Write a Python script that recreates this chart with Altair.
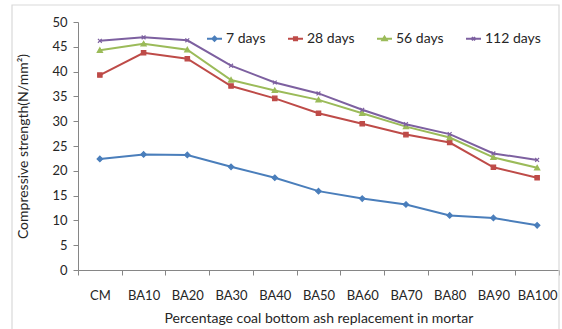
import altair as alt
import pandas as pd

categories = ["CM", "BA10", "BA20", "BA30", "BA40", "BA50", "BA60", "BA70", "BA80", "BA90", "BA100"]
series_names = ["7 days", "28 days", "56 days", "112 days"]
days7 = [22.4, 23.3, 23.2, 20.8, 18.6, 15.9, 14.4, 13.2, 11.0, 10.5, 9.0]
days28 = [39.3, 43.8, 42.6, 37.1, 34.6, 31.6, 29.5, 27.3, 25.7, 20.7, 18.6]
days56 = [44.3, 45.6, 44.4, 38.3, 36.2, 34.3, 31.6, 28.9, 26.7, 22.7, 20.6]
days112 = [46.2, 46.9, 46.3, 41.2, 37.8, 35.6, 32.3, 29.4, 27.4, 23.5, 22.2]
y_ticks = [0, 5, 10, 15, 20, 25, 30, 35, 40, 45, 50]

colors = ["#4A7EBB", "#BE4B48", "#9BBB59", "#7D60A0"]
marker_paths = [
    "M0,-1L1,0L0,1L-1,0Z",
    "M-0.8,-0.8H0.8V0.8H-0.8Z",
    "M0,-0.9L0.95,0.75H-0.95Z",
    "M-0.7,-0.7L0.7,0.7M-0.7,0.7L0.7,-0.7",
]
legend_paths = [
    "M-1,0H1M0,-0.3L0.3,0L0,0.3L-0.3,0Z",
    "M-1,0H1M-0.22,-0.22H0.22V0.22H-0.22Z",
    "M-1,0H1M0,-0.3L0.32,0.22H-0.32Z",
    "M-1,0H1M-0.22,-0.22L0.22,0.22M-0.22,0.22L0.22,-0.22",
]

rows = []
for name, vals in zip(series_names, [days7, days28, days56, days112]):
    for c, v in zip(categories, vals):
        rows.append({"cat": c, "series": name, "value": v})
df = pd.DataFrame(rows)

FONT = "Lato"
TXT = "#262626"
AX = "#868686"

x_enc = alt.X(
    "cat:N",
    sort=categories,
    bandPosition=0.5,
    scale=alt.Scale(type="band", paddingInner=0, paddingOuter=0),
    axis=alt.Axis(
        title="Percentage coal bottom ash replacement in mortar",
        labelAngle=0,
        tickBand="extent",
        tickSize=5,
        tickColor=AX,
        domainColor=AX,
        labelPadding=14,
        labelFont=FONT,
        labelFontSize=13,
        labelColor=TXT,
        titleFont=FONT,
        titleFontSize=14,
        titleFontWeight="normal",
        titleColor=TXT,
        titlePadding=9,
    ),
)
y_enc = alt.Y(
    "value:Q",
    scale=alt.Scale(domain=[0, 50], nice=False),
    axis=alt.Axis(
        title="Compressive strength(N/mm²)",
        values=y_ticks,
        grid=False,
        tickSize=5,
        tickColor=AX,
        domainColor=AX,
        labelPadding=6,
        labelFont=FONT,
        labelFontSize=13,
        labelColor=TXT,
        titleFont=FONT,
        titleFontSize=14,
        titleFontWeight="normal",
        titleColor=TXT,
        titlePadding=21,
    ),
)

sc = alt.Scale(domain=series_names, range=colors)

base = alt.Chart(df)

lines = base.mark_line(strokeWidth=2).encode(
    x=x_enc, y=y_enc,
    color=alt.Color("series:N", scale=sc, legend=None),
)

points = base.mark_point(size=30, opacity=1, strokeWidth=1.2).encode(
    x=x_enc, y=y_enc,
    fill=alt.Fill("series:N", scale=sc, legend=None),
    stroke=alt.Stroke("series:N", scale=sc, legend=None),
    shape=alt.Shape("series:N", scale=alt.Scale(domain=series_names, range=marker_paths), legend=None),
)

leg = alt.Legend(
    orient="none", legendX=128, legendY=8, direction="horizontal", title=None,
    symbolSize=225, symbolStrokeWidth=1.8, labelFont=FONT, labelFontSize=14,
    labelColor=TXT, columnPadding=18, labelOffset=3,
)
legend_layer = base.mark_point(size=225, opacity=1).encode(
    x=x_enc, y=y_enc,
    fill=alt.Fill("series:N", scale=sc, legend=leg),
    stroke=alt.Stroke("series:N", scale=sc, legend=leg),
    shape=alt.Shape("series:N", scale=alt.Scale(domain=series_names, range=legend_paths), legend=leg),
).transform_filter("false")

frame = alt.Chart(pd.DataFrame({"a": [0]})).mark_rect(
    fill=None, stroke="#D9D9D9", strokeWidth=1.2, clip=False
).encode(
    x=alt.value(-66), x2=alt.value(481), y=alt.value(-17), y2=alt.value(320)
)

chart = alt.layer(frame, lines, points, legend_layer).resolve_scale(
    color="independent", fill="independent", stroke="independent", shape="independent"
).properties(
    width=481, height=248,
    autosize=alt.AutoSizeParams(type="none"),
    padding={"left": 78, "top": 22, "right": 3, "bottom": 59},
    background="white",
).configure_view(stroke=None)

chart.save("out.html", embed_options={"renderer": "svg", "actions": False})
